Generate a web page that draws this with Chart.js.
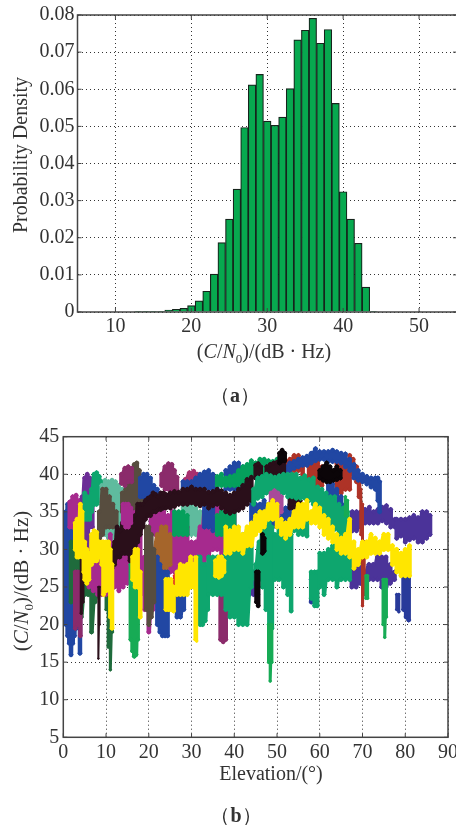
<!DOCTYPE html>
<html>
<head>
<meta charset="utf-8">
<title>C/N0 distribution</title>
<script src="https://cdn.jsdelivr.net/npm/chart.js@4"></script>
<style>
  html, body { margin: 0; padding: 0; background: #fff; width: 456px; height: 825px; overflow: hidden; }
  canvas { position: absolute; left: 0; }
  #histChart { top: 0; }
  #scatterChart { top: 420px; }
  .label { position: absolute; font-family: "Liberation Serif", serif; font-size: 20px; color: #333; white-space: nowrap; line-height: 1; }
  .label sub { font-size: 13px; line-height: 0; }
  .rot { transform: translate(-50%, -50%) rotate(-90deg); }
  .mid { transform: translate(-50%, -50%); }
  .cap b { font-weight: bold; }
</style>
</head>
<body>
<canvas id="histChart" width="470" height="345"></canvas>
<canvas id="scatterChart" width="470" height="345"></canvas>

<div class="label rot" style="left:20px;top:155px">Probability Density</div>
<div class="label mid" style="left:264px;top:351px">(<i>C</i>/<i>N</i><sub>0</sub>)/(dB · Hz)</div>
<div class="label mid cap" style="left:235px;top:395px">（<b>a</b>）</div>
<div class="label rot" style="left:21px;top:581px;font-size:21px">(<i>C</i>/<i>N</i><sub>0</sub>)/(dB · Hz)</div>
<div class="label mid" style="left:271px;top:773px">Elevation/(°)</div>
<div class="label mid cap" style="left:236px;top:815px">（<b>b</b>）</div>

<script>
// (a) histogram
const histBins = [13, 14, 15, 16, 17, 18, 19, 20, 21, 22, 23, 24, 25, 26, 27, 28, 29, 30, 31, 32, 33, 34, 35, 36, 37, 38, 39, 40, 41, 42, 43, 44];
const histDensity = [0.0001, 0.0001, 0.0001, 0.0002, 0.0005, 0.0007, 0.001, 0.0017, 0.003, 0.0056, 0.0102, 0.0187, 0.025, 0.0331, 0.0497, 0.0612, 0.064, 0.0514, 0.0503, 0.0525, 0.0602, 0.0733, 0.0759, 0.0791, 0.0724, 0.0761, 0.0562, 0.0324, 0.025, 0.0185, 0.0067, 0.0002];
const histXTicks = [10, 20, 30, 40, 50];
const histYTicks = [0, 0.01, 0.02, 0.03, 0.04, 0.05, 0.06, 0.07, 0.08];

// (b) axis ticks
const elevTicks = [0, 10, 20, 30, 40, 50, 60, 70, 80, 90];
const cnoTicks = [5, 10, 15, 20, 25, 30, 35, 40, 45];

// (b) satellite tracks: elevation, top and bottom of the C/N0 spread
const blueLeftE = [0.6, 1, 1.4, 1.8, 2.2, 2.6, 3, 3.4, 3.9];
const blueLeftH = [35, 36, 36, 36.3, 36.5, 36.3, 36, 35.5, 34];
const blueLeftL = [20, 18.5, 17.5, 16, 17.5, 18.5, 19.5, 20, 16.2];

const darkGreenE = [1.8, 2.6, 3.4, 4.2, 5, 5.8, 6.6, 7.4, 8.2];
const darkGreenH = [31, 30, 30, 28, 27, 27, 27, 27, 26];
const darkGreenL = [23, 24, 23, 21, 24, 24, 19, 23, 24];
const darkGreen2E = [10, 10.5, 11, 11.5];
const darkGreen2H = [26, 26, 26, 25];
const darkGreen2L = [22, 17, 14, 19];

const magentaTopE = [1.5, 2.2, 3, 3.8];
const magentaTopH = [36.3, 37, 37.2, 36.5];
const magentaTopL = [33, 33, 33, 34];
const maroonLowE = [2.8, 3.4, 4];
const maroonLowH = [27, 27, 27];
const maroonLowL = [19.5, 20, 18.5];

const purpleE = [4.4, 5, 5.6, 6.2, 6.8];
const purpleH = [37, 39.5, 40, 39.5, 38];
const purpleL = [33, 31, 30, 33, 33];

const tealTopE = [6.6, 7.2, 7.8, 8.4, 9];
const tealTopH = [38, 40, 40.2, 39.7, 39];
const tealTopL = [35, 36, 36, 36.5, 36];
const tealSideE = [5, 5.6, 6.2];
const tealSideH = [37.5, 37, 37];
const tealSideL = [34, 34, 34];

const tanE = [9, 9.8, 10.6, 11.4, 12.2, 13, 13.8, 14.6, 15.4, 16.2, 17, 17.8, 18.6];
const tanH = [38.5, 39.2, 39, 39.2, 39, 38.5, 38, 38, 38, 38, 37.5, 36.5, 37];
const tanL = [32.5, 32, 31.5, 31.5, 32, 33, 34, 34, 34, 35, 35, 35, 34];
const tan2E = [28, 29, 30, 31, 32, 33];
const tan2H = [36, 36, 36, 35.5, 35, 35];
const tan2L = [33, 32, 32, 32, 32, 32];

const umberE = [8.4, 9.2, 10, 10.8, 11.6, 12.4];
const umberH = [35, 38, 38, 37, 36, 35];
const umberL = [30, 32, 33, 33, 33, 33];
const umber2E = [13.8, 14.6, 15.4, 16, 16.6, 17.2, 17.8, 18.2];
const umber2H = [37.5, 38, 39, 40, 41.3, 41.5, 40.5, 39];
const umber2L = [35, 35, 35, 35, 35, 35, 35, 34];

const maroonE = [13.6, 14.4, 15.2, 16];
const maroonH = [40, 40.8, 41, 40.8];
const maroonL = [38.8, 38.5, 39, 39];
const maroon2E = [23, 23.8, 24.6, 25.4, 26, 26.6];
const maroon2H = [40, 41, 41.4, 41.3, 40.5, 39.6];
const maroon2L = [38.5, 38, 38, 38, 38, 38];
const maroon3E = [36.8, 37.4, 38];
const maroon3H = [25, 24, 24];
const maroon3L = [18, 17.7, 18];
const pinkE = [28.5, 29.5, 30.5, 31.3];
const pinkH = [39.3, 40.2, 40.4, 40];
const pinkL = [38.5, 38.5, 38.5, 38.5];

const blueTopE = [18, 18.8, 19.6, 20.4, 21.2, 22];
const blueTopH = [39.5, 40, 40, 39.5, 38.5, 38];
const blueTopL = [37, 37, 37, 37, 37, 37];
const blueTop2E = [28, 29, 30, 31, 32, 33, 34, 35, 36];
const blueTop2H = [39, 39, 39, 39.5, 40, 40.3, 40.5, 40, 39.5];
const blueTop2L = [38, 38, 38, 38, 38, 38, 38, 38, 38];
const blueTop3E = [38, 39, 40, 41, 42];
const blueTop3H = [40.5, 41, 41.5, 41.5, 41];
const blueTop3L = [38, 38, 38, 38, 38];

const greenTopE = [36, 37, 38, 39, 40, 41, 42, 43, 44, 45, 46, 47, 48, 49, 50, 51];
const greenTopH = [39.7, 40, 39.5, 39.7, 39.8, 40.5, 41, 41.3, 41.8, 41.5, 42, 42, 41.8, 41.7, 42, 42];
const greenTopL = [38.5, 38.5, 38.5, 38.5, 38.5, 38.5, 39, 39, 39.5, 39.5, 39.5, 39.5, 39.5, 39.5, 40, 40];

const magentaE = [6, 7, 8, 9, 10, 11, 12, 13, 14, 15, 16, 17, 18, 19, 20, 21, 22, 23, 24, 25, 26, 27, 28, 29, 30, 31, 32, 33, 34, 35, 36, 37, 38, 39, 40];
const magentaH = [30, 31, 31, 31, 30, 32, 30, 31, 33, 35.5, 35, 35, 33, 29, 31, 30, 30, 28, 31, 31, 33, 33, 33, 33, 31, 31, 33, 35, 36, 36, 36, 36, 35, 35, 35];
const magentaL = [25, 24.5, 24, 24, 24, 24.5, 25, 24.5, 25, 25.5, 26.5, 25, 24, 22, 19, 22, 24, 25, 26, 27, 27, 27, 28, 28, 28, 28, 27, 28, 29, 30, 30, 29, 30, 30, 31];
const magentaBandE = [20.5, 21.5, 22.5, 23.5, 24.5, 25.5, 26];
const magentaBandH = [35, 35, 35, 35, 34.5, 35, 35];
const magentaBandL = [32, 32, 32, 32, 31.5, 32, 32];
const magentaUpE = [14, 14.6, 15.2, 15.8];
const magentaUpH = [36, 36, 36, 35.5];
const magentaUpL = [33.5, 33, 33, 33.5];

const goldE = [21, 22, 23, 24, 25];
const goldH = [30, 32, 33, 33, 32];
const goldL = [28, 28, 27.5, 27, 28];

const blueMidE = [22, 22.6, 23.2, 23.8, 24.4];
const blueMidH = [29, 28, 27, 27, 27];
const blueMidL = [20, 19, 18.5, 18.5, 18.5];
const blueMid2E = [26.6, 27.4, 28.2];
const blueMid2H = [25, 25, 25];
const blueMid2L = [21, 21, 22];
const blueMid3E = [33, 34, 35];
const blueMid3H = [36.5, 36.5, 36];
const blueMid3L = [33, 33, 32.5];

const umber3E = [19.4, 20, 20.6, 21.2];
const umber3H = [33, 33, 32, 30];
const umber3L = [22, 20, 21, 23];

const greenMidE = [26, 27, 28, 29];
const greenMidH = [35, 35, 35, 34.5];
const greenMidL = [32, 32, 32, 32];
const greenMid2E = [36, 37, 38, 39, 40];
const greenMid2H = [34.5, 35, 35, 35, 35];
const greenMid2L = [32, 32, 31.5, 31.5, 32];

const limeE = [15.8, 16.2, 16.6, 17, 17.4];
const limeH = [28, 28, 28, 27, 26];
const limeL = [18, 16.5, 15.8, 16, 18];

const purpleLowE = [41.5, 42.5, 43.5, 44.5, 45.5];
const purpleLowH = [30, 29, 28, 27, 27];
const purpleLowL = [23, 23, 24, 24, 24];
const purpleRightE = [67.6, 68.6, 69.6, 70.6, 71.6, 72.6, 73.6, 74.6, 75.6, 76.6, 77.6];
const purpleRightH = [35, 35, 35, 35.3, 35.6, 35, 35.3, 35.6, 35.8, 35.3, 34];
const purpleRightL = [32.5, 32.5, 33, 33.5, 33.5, 33.5, 33.5, 33.8, 33.5, 33, 33];
const purpleFarE = [78, 79, 80, 81, 82, 83, 84, 85, 85.8];
const purpleFarH = [34, 34, 34, 34.2, 34.5, 34.2, 35, 35, 34.5];
const purpleFarL = [31.5, 31.8, 31, 31.3, 31.5, 31, 31, 31.5, 32];
const purpleBelowE = [67.5, 68.5, 69.5, 70.5, 71.5, 72.5, 73.5, 74.5, 75.5, 76.5, 77.5];
const purpleBelowH = [29, 29, 28, 27, 28, 28, 29, 29, 29, 28, 27];
const purpleBelowL = [25, 25, 25.5, 26, 26, 26, 26, 25, 25, 25.5, 26];

const navyE = [79.6, 80.2, 80.8];
const navyH = [27, 27, 27];
const navyL = [22, 21, 20.6];
const navy2E = [78, 78.5];
const navy2H = [24, 24];
const navy2L = [22, 21.7];
const navy3E = [58, 58.6];
const navy3H = [26, 25];
const navy3L = [23, 23];

const redE = [52, 53, 54, 55, 56];
const redH = [41.8, 42, 42.5, 42.5, 41.8];
const redL = [40, 40.5, 40.5, 40.5, 40];
const red2E = [57.5, 58.5, 59.5, 60.5];
const red2H = [41.5, 41.5, 41.5, 41];
const red2L = [38, 38.5, 38.5, 38.5];
const red3E = [64, 65, 66, 67];
const red3H = [41.5, 42, 42, 41.5];
const red3L = [37.5, 37.5, 38, 38];
const red4E = [67, 67.8, 68.6, 69.2];
const red4H = [42.5, 42, 41, 39.5];
const red4L = [41, 40, 39, 37];
const red5E = [69.6, 70, 70.4];
const red5H = [38, 36, 31];
const red5L = [32, 22.5, 24];

const blueArchE = [52, 53, 54, 55, 56, 57, 58, 59, 60, 61, 62, 63, 64, 65, 66, 67, 68, 69, 70, 71, 72, 73, 73.6, 74];
const blueArchH = [41, 41.5, 41.7, 42, 42.2, 42.4, 42.8, 43.4, 43, 43, 43, 43.2, 43, 42.8, 42.7, 42, 41.3, 40.5, 40, 39.7, 39.5, 39.5, 39.5, 39];
const blueArchL = [40.2, 40.5, 40.8, 41, 41.2, 41.2, 41.5, 41.8, 42, 42, 41.7, 41.7, 41.7, 41.5, 41, 40.5, 39.5, 39.2, 39, 38.7, 38.3, 38, 36.5, 35];
const blueDiagE = [62, 63, 64, 65, 66];
const blueDiagH = [39, 38.7, 38, 37, 36];
const blueDiagL = [37, 36.5, 35.5, 34, 33];
const blueBandE = [44, 45, 46, 47, 48, 49, 50, 51, 52, 53, 54];
const blueBandH = [36, 36, 36, 36.5, 36, 35, 35, 35, 35.5, 36, 35];
const blueBandL = [33, 33, 34, 34, 34, 33, 33, 33, 33, 33, 33];

const tealBandE = [44.5, 45.5, 46.5, 47.5, 48.5, 49.5, 50.5, 51.5, 52.5, 53.5, 54.5, 55.5, 56.5, 57.5, 58.5, 59.5, 60.5, 61.5, 62.5, 63.5, 64.5, 65.5, 66.5];
const tealBandH = [38, 39.5, 39.7, 40, 39.8, 39.6, 39.8, 40, 40, 40, 40, 39.5, 39.8, 39.3, 39.5, 38.3, 38, 37.5, 37, 37, 36, 35.5, 35];
const tealBandL = [36, 36.8, 37, 37.5, 37.5, 37.5, 37.5, 37.5, 37, 37, 36.8, 36.8, 36.8, 36.5, 36, 35.5, 34, 33.5, 33, 32.7, 32, 32, 32];
const mauveE = [48.6, 49.4, 50.2, 51];
const mauveH = [37.5, 37.8, 37.5, 37];
const mauveL = [35.5, 35, 34.5, 35];

const tealLowE = [31.5, 32, 32.6, 33.2, 33.8];
const tealLowH = [29, 29, 28, 28, 28];
const tealLowL = [21, 20, 20, 20.5, 22];
const tealLow2E = [34, 35, 36, 37, 38, 39, 40, 41, 42, 43, 44];
const tealLow2H = [29, 29, 29, 29, 30, 31, 32, 30, 32, 32, 31];
const tealLow2L = [24, 24, 24, 24, 22, 21, 21, 20, 20, 20, 25];
const tealLow3E = [45, 45.8, 46.6, 47.4, 48.2, 48.8];
const tealLow3H = [28, 31, 33, 33, 34, 33];
const tealLow3L = [26, 26, 25, 22, 20, 19.5];
const tealLow4E = [49.5, 50.5, 51.5, 52.5, 53.3];
const tealLow4H = [32, 33, 33, 33, 32];
const tealLow4L = [26, 26, 25, 24, 21.8];
const tealLow5E = [54, 55, 56, 57];
const tealLow5H = [34, 34, 34, 34];
const tealLow5L = [32.5, 32, 32, 31.8];
const tealLow6E = [58, 58.8, 59.4];
const tealLow6H = [27, 27, 27];
const tealLow6L = [23.5, 22.5, 22.5];
const tealLow7E = [60, 61, 62, 63, 64, 65, 66, 67];
const tealLow7H = [29.5, 29.5, 30, 30.5, 31, 31, 30.5, 30];
const tealLow7L = [25, 24, 26, 26, 25, 26, 26, 26];

const limeSpikeE = [48, 48.4, 48.8];
const limeSpikeH = [20, 20, 20];
const limeSpikeL = [15, 12.5, 15];
const lime2E = [74.8, 75.2, 75.6];
const lime2H = [26, 26, 26];
const lime2L = [20, 18.3, 21];
const lime3E = [70.8, 71.2];
const lime3H = [26.5, 26.5];
const lime3L = [23.5, 23.5];
const lime4E = [66, 66.5];
const lime4H = [37, 36.5];
const lime4L = [34.5, 34.5];

const darkE = [11.4, 12, 12.6, 13.2, 13.8, 14.4, 15, 15.6, 16.2, 16.8, 17.4, 18, 18.6, 19.2, 19.8, 20.4, 21, 21.6, 22.2, 22.8, 23.4, 24, 25, 26, 27, 28, 29, 30, 31, 32, 33, 34, 35, 36, 37, 38, 39, 40, 41, 42, 43, 44];
const darkH = [30, 31, 33, 32.5, 33.5, 34, 34.3, 33.5, 34, 34.5, 36, 36, 36, 36.5, 36.8, 37, 37.5, 37.3, 37, 37.5, 37.5, 37.3, 37.5, 37.7, 37.6, 38, 38, 38.3, 38, 38, 38, 37.6, 37.7, 38, 37.8, 37.5, 37.2, 37.5, 38, 38.5, 39.3, 39.6];
const darkL = [27.5, 28, 29, 29, 29.5, 29.5, 29.5, 28.5, 28.5, 29.5, 31, 32, 33, 34, 34.5, 34.5, 35, 35, 35.3, 35.3, 35.5, 35.5, 35.5, 35.7, 36, 36, 36, 36.2, 36, 35.8, 36, 35.5, 35.8, 36, 35.5, 35, 34.8, 35, 35.2, 35.5, 36, 36.5];
const dark2E = [45, 45.6, 46.2];
const dark2H = [41.2, 41.4, 41];
const dark2L = [39.5, 39.5, 39.5];
const dark3E = [47.6, 48.4, 49.2, 50, 50.8, 51.6];
const dark3H = [41, 41.3, 41.5, 41.6, 41.8, 41.6];
const dark3L = [39.8, 39.8, 39.8, 40, 40, 40];
const dark4E = [53, 53.8, 54.6, 55.4];
const dark4H = [37, 37.5, 37, 36.5];
const dark4L = [35.5, 35.5, 35.2, 35.5];
const dark5E = [4.2, 4.6];
const dark5H = [29, 29];
const dark5L = [21.5, 23];
const dark6E = [8.2, 8.5];
const dark6H = [25, 25];
const dark6L = [15.5, 20];

const blackE = [50.6, 51.2, 51.8];
const blackH = [42.8, 43.2, 42.8];
const blackL = [41.5, 41.8, 41.8];
const black2E = [60, 60.8, 61.6, 62.4, 63.2, 64, 64.8];
const black2H = [40.5, 41, 41.5, 41, 40.5, 41, 40.5];
const black2L = [39.5, 39.2, 39, 39, 39.2, 39.3, 39.5];
const black3E = [45.2, 45.6];
const black3H = [27, 27];
const black3L = [23, 22.5];
const black4E = [46.6, 47];
const black4H = [32, 31.5];
const black4L = [29.5, 29.8];

const redDotE = [26, 26.4];
const redDotH = [26.5, 26.5];
const redDotL = [24.5, 24.5];

const yellowAE = [2.8, 3.2, 3.6, 4, 4.4, 4.8];
const yellowAH = [33.5, 34, 34, 36, 35, 31];
const yellowAL = [30, 29, 29, 30, 29, 27];
const yellowBE = [5, 5.5, 6];
const yellowBH = [31, 30, 29.5];
const yellowBL = [26, 25.5, 26];
const yellowCE = [6.6, 7.2, 7.8, 8.4, 9];
const yellowCH = [32, 32.5, 32.3, 31, 31];
const yellowCL = [28, 28.5, 28.5, 29, 28];
const yellowDE = [9.4, 10, 10.6, 11, 11.4];
const yellowDH = [31, 31, 31, 30, 28];
const yellowDL = [24, 24.5, 25, 21, 19.5];
const yellowEE = [16.2, 16.8, 17.4, 18];
const yellowEH = [29, 30, 30, 27];
const yellowEL = [26, 25, 25, 21];
const yellowFE = [24, 24.6, 25.2, 25.8];
const yellowFH = [26, 26, 26, 25];
const yellowFL = [22, 22, 22, 21.8];
const yellowGE = [26.6, 27.4, 28.2, 29, 29.8, 30.5];
const yellowGH = [27, 28, 27.8, 28, 29, 28];
const yellowGL = [24, 24, 24, 24, 25, 25];
const yellowHE = [30.8, 31.2];
const yellowHH = [29, 29];
const yellowHL = [18, 17.8];
const yellowIE = [35.6, 36.4, 37, 37.6];
const yellowIH = [28.5, 29, 29, 28.5];
const yellowIL = [26.5, 26.3, 26.5, 27];
const yellowJE = [38, 39, 40, 41, 42, 43, 44, 45, 46, 47, 48, 49, 50, 51, 52, 53, 54, 55, 56, 57, 58, 59, 60, 61, 62, 63, 64, 65, 66, 67, 68, 69, 70, 71, 72, 73, 74, 75, 76, 77, 78, 79, 80, 81];
const yellowJH = [33, 32.5, 33, 33, 32, 33, 33.5, 34.5, 35, 35, 36, 36.5, 36, 34, 33.5, 34, 35, 36, 36, 36.5, 35, 36, 35.5, 34.5, 34, 33, 32, 31.5, 32, 34, 31, 30, 31, 31, 32, 31.5, 31, 32, 32, 30.5, 30, 29.5, 30, 30.5];
const yellowJL = [29.5, 29.5, 30, 30, 29.5, 30.5, 30.5, 32, 32.5, 33, 34, 34, 33, 32, 31.5, 32, 33, 33, 33, 34, 33.5, 33.5, 33, 32, 31.5, 31, 30, 29.5, 29.5, 29, 27.5, 28, 29, 29, 29.5, 29.5, 29.5, 30, 30, 28, 27, 26.5, 26.5, 26.5];

const BLUE = "#2147a3", TEAL = "#0ea66e", GREEN = "#05a05c", LIME = "#17ab55", UMBER = "#574d3f";
const MAROON = "#8b2b6b", MAGENTA = "#a62a8e", PURPLE = "#4b3399", NAVY = "#283a9a";
const RED = "#ae3327", DARK = "#2a0f1a", BLACK = "#0b0508", YELLOW = "#ffe600";

// one track is a zigzag between the top and bottom of its spread
function track(color, elev, hi, lo, width = 4.5) {
  const points = [];
  elev.forEach((e, i) => {
    points.push({ x: e, y: hi[i] });
    points.push({ x: e, y: lo[i] });
  });
  return {
    data: points,
    showLine: true,
    borderColor: color,
    backgroundColor: color,
    borderWidth: width,
    borderJoinStyle: "round",
    borderCapStyle: "round",
    pointRadius: width / 2 + 0.5,
    pointBorderWidth: 0,
    pointStyle: "rectRot",
    tension: 0,
  };
}

// listed back to front, reversed below because chart.js paints dataset 0 last
const tracks = [
  track(BLUE, blueLeftE, blueLeftH, blueLeftL),
  track("#1f6b3c", darkGreenE, darkGreenH, darkGreenL),
  track("#1f6b3c", darkGreen2E, darkGreen2H, darkGreen2L, 3),
  track(MAGENTA, magentaTopE, magentaTopH, magentaTopL),
  track(MAROON, maroonLowE, maroonLowH, maroonLowL),
  track("#6b2d96", purpleE, purpleH, purpleL),
  track(TEAL, tealSideE, tealSideH, tealSideL),
  track(TEAL, tealTopE, tealTopH, tealTopL),
  track("#5fbb9e", tanE, tanH, tanL),
  track("#5fbb9e", tan2E, tan2H, tan2L),
  track(UMBER, umberE, umberH, umberL),
  track(UMBER, umber2E, umber2H, umber2L),
  track(MAROON, maroonE, maroonH, maroonL),
  track(MAROON, maroon2E, maroon2H, maroon2L),
  track("#a8306f", pinkE, pinkH, pinkL),
  track(BLUE, blueTopE, blueTopH, blueTopL),
  track(BLUE, blueTop2E, blueTop2H, blueTop2L),
  track(BLUE, blueTop3E, blueTop3H, blueTop3L),
  track(GREEN, greenTopE, greenTopH, greenTopL),
  track(MAGENTA, magentaBandE, magentaBandH, magentaBandL),
  track(MAGENTA, magentaE, magentaH, magentaL),
  track("#a5652b", goldE, goldH, goldL),
  track(BLUE, blueMidE, blueMidH, blueMidL),
  track(BLUE, blueMid2E, blueMid2H, blueMid2L),
  track(BLUE, blueMid3E, blueMid3H, blueMid3L),
  track(UMBER, umber3E, umber3H, umber3L),
  track(GREEN, greenMidE, greenMidH, greenMidL),
  track(GREEN, greenMid2E, greenMid2H, greenMid2L),
  track(LIME, limeE, limeH, limeL),
  track(PURPLE, purpleLowE, purpleLowH, purpleLowL),
  track(PURPLE, purpleRightE, purpleRightH, purpleRightL),
  track(PURPLE, purpleFarE, purpleFarH, purpleFarL),
  track(PURPLE, purpleBelowE, purpleBelowH, purpleBelowL),
  track(NAVY, navyE, navyH, navyL),
  track(NAVY, navy2E, navy2H, navy2L, 3),
  track(NAVY, navy3E, navy3H, navy3L),
  track(RED, redE, redH, redL),
  track(RED, red2E, red2H, red2L),
  track(RED, red3E, red3H, red3L),
  track(RED, red4E, red4H, red4L),
  track(RED, red5E, red5H, red5L, 3),
  track(BLUE, blueArchE, blueArchH, blueArchL),
  track(BLUE, blueDiagE, blueDiagH, blueDiagL),
  track(BLUE, blueBandE, blueBandH, blueBandL),
  track(DARK, darkE, darkH, darkL),
  track(MAGENTA, magentaUpE, magentaUpH, magentaUpL),
  track(DARK, dark2E, dark2H, dark2L),
  track(DARK, dark3E, dark3H, dark3L),
  track(DARK, dark4E, dark4H, dark4L),
  track(DARK, dark5E, dark5H, dark5L, 3),
  track(DARK, dark6E, dark6H, dark6L, 2),
  track(TEAL, tealBandE, tealBandH, tealBandL),
  track("#a84a9a", mauveE, mauveH, mauveL),
  track(MAROON, maroon3E, maroon3H, maroon3L),
  track(TEAL, tealLowE, tealLowH, tealLowL),
  track(TEAL, tealLow2E, tealLow2H, tealLow2L),
  track(TEAL, tealLow3E, tealLow3H, tealLow3L),
  track(TEAL, tealLow4E, tealLow4H, tealLow4L),
  track(TEAL, tealLow5E, tealLow5H, tealLow5L),
  track(TEAL, tealLow6E, tealLow6H, tealLow6L),
  track(TEAL, tealLow7E, tealLow7H, tealLow7L),
  track(LIME, limeSpikeE, limeSpikeH, limeSpikeL, 3),
  track(LIME, lime2E, lime2H, lime2L, 3),
  track(LIME, lime3E, lime3H, lime3L, 3),
  track(LIME, lime4E, lime4H, lime4L, 3),
  track(BLACK, blackE, blackH, blackL),
  track(BLACK, black2E, black2H, black2L),
  track(BLACK, black3E, black3H, black3L),
  track(BLACK, black4E, black4H, black4L),
  track("#e0202a", redDotE, redDotH, redDotL, 3),
  track(YELLOW, yellowAE, yellowAH, yellowAL),
  track(YELLOW, yellowBE, yellowBH, yellowBL),
  track(YELLOW, yellowCE, yellowCH, yellowCL),
  track(YELLOW, yellowDE, yellowDH, yellowDL),
  track(YELLOW, yellowEE, yellowEH, yellowEL),
  track(YELLOW, yellowFE, yellowFH, yellowFL),
  track(YELLOW, yellowGE, yellowGH, yellowGL),
  track(YELLOW, yellowHE, yellowHH, yellowHL, 3),
  track(YELLOW, yellowIE, yellowIH, yellowIL),
  track(YELLOW, yellowJE, yellowJH, yellowJL),
].reverse();

// box around the plot with short inward ticks, like the matlab axes
const boxPlugin = {
  id: "box",
  afterDatasetsDraw(chart) {
    const { ctx, chartArea: a, scales } = chart;
    ctx.save();
    ctx.strokeStyle = "#444";
    ctx.lineWidth = 1.5;
    ctx.strokeRect(a.left, a.top, a.right - a.left, a.bottom - a.top);
    ctx.lineWidth = 1;
    ctx.beginPath();
    scales.x.ticks.forEach((t) => {
      const px = scales.x.getPixelForValue(t.value);
      ctx.moveTo(px, a.bottom);
      ctx.lineTo(px, a.bottom - 4);
      ctx.moveTo(px, a.top);
      ctx.lineTo(px, a.top + 4);
    });
    scales.y.ticks.forEach((t) => {
      const py = scales.y.getPixelForValue(t.value);
      ctx.moveTo(a.left, py);
      ctx.lineTo(a.left + 4, py);
      ctx.moveTo(a.right, py);
      ctx.lineTo(a.right - 4, py);
    });
    ctx.stroke();
    ctx.restore();
  },
};

function axis(min, max, ticks, size, padding, label) {
  return {
    type: "linear",
    min: min,
    max: max,
    offset: false,
    afterBuildTicks: (a) => {
      a.ticks = ticks.map((v) => ({ value: v }));
    },
    afterFit: (a) => {
      if (a.axis === "x") a.height = size;
      else a.width = size;
    },
    grid: { color: "#333", lineWidth: 1, drawTicks: false, offset: false },
    border: { display: false, dash: [1, 3] },
    ticks: {
      padding: padding,
      color: "#333",
      maxRotation: 0,
      autoSkip: false,
      font: { family: "'Liberation Serif', serif", size: 20 },
      callback: label,
    },
  };
}

const plain = (v) => String(+v.toFixed(2));

new Chart(document.getElementById("histChart"), {
  type: "bar",
  data: {
    datasets: [
      {
        data: histBins.map((b, i) => ({ x: b, y: histDensity[i] })),
        backgroundColor: "#07a94f",
        borderColor: "#16241c",
        borderWidth: 1.2,
        barPercentage: 1,
        categoryPercentage: 1,
      },
    ],
  },
  options: {
    responsive: false,
    animation: false,
    events: [],
    layout: { padding: { left: 0, top: 15, right: 13, bottom: 0 } },
    plugins: { legend: { display: false }, tooltip: { enabled: false } },
    scales: {
      x: axis(5, 55, histXTicks, 33, 3, plain),
      y: axis(0, 0.08, histYTicks, 77.5, 3, plain),
    },
  },
  plugins: [boxPlugin],
});

new Chart(document.getElementById("scatterChart"), {
  type: "scatter",
  data: { datasets: tracks },
  options: {
    responsive: false,
    animation: false,
    events: [],
    layout: { padding: { left: 0, top: 16.7, right: 22, bottom: 0 } },
    plugins: { legend: { display: false }, tooltip: { enabled: false } },
    scales: {
      x: axis(0, 90, elevTicks, 27.7, 3, plain),
      y: axis(5, 45, cnoTicks, 63.3, 4, plain),
    },
  },
  plugins: [boxPlugin],
});
</script>
</body>
</html>
